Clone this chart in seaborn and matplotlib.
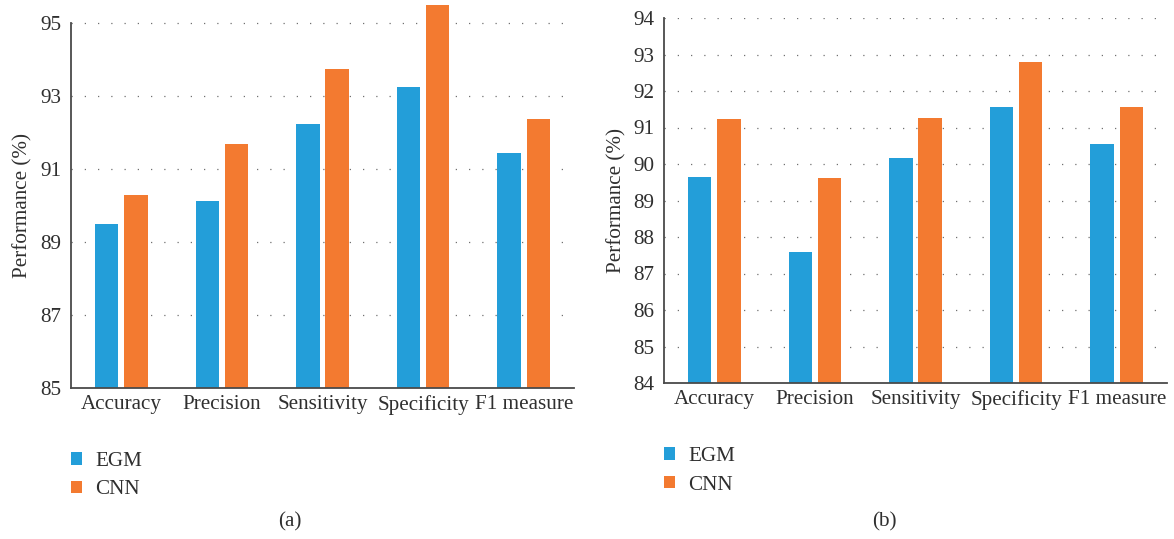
import numpy as np
import pandas as pd
import matplotlib
matplotlib.use("Agg")
import matplotlib.pyplot as plt
from matplotlib.patches import Patch
import seaborn as sns

# Metrics and results for the two experiments
metrics = ["Accuracy", "Precision", "Sensitivity", "Specificity", "F1 measure"]
methods = ["EGM", "CNN"]

egm_a = [89.5, 90.12, 92.23, 93.25, 91.45]
cnn_a = [90.3, 91.68, 93.75, 95.5, 92.38]

egm_b = [89.65, 87.6, 90.17, 91.57, 90.56]
cnn_b = [91.24, 89.62, 91.27, 92.8, 91.57]

ticks_a = [85, 87, 89, 91, 93, 95]
ticks_b = [84, 85, 86, 87, 88, 89, 90, 91, 92, 93, 94]

colors = {"EGM": "#239ED9", "CNN": "#F37A30"}
text_color = "#2f2f2f"
spine_color = "#4a4a4a"

sns.set_theme(style="white")
plt.rcParams["font.family"] = ["Liberation Serif", "DejaVu Serif"]
plt.rcParams["text.color"] = text_color
plt.rcParams["axes.labelcolor"] = text_color
plt.rcParams["xtick.color"] = text_color
plt.rcParams["ytick.color"] = text_color

FS = 15.2


def to_frame(egm, cnn):
    return pd.DataFrame({
        "metric": metrics * 2,
        "method": ["EGM"] * len(metrics) + ["CNN"] * len(metrics),
        "value": list(egm) + list(cnn),
    })


def draw_panel(ax, df, ticks, top):
    sns.barplot(data=df, x="metric", y="value", hue="method",
                hue_order=methods, palette=colors, width=0.58, gap=0.2,
                saturation=1, legend=False, ax=ax, zorder=2,
                linewidth=0, edgecolor="none")
    ax.set_ylim(ticks[0], top)
    ax.set_xlim(-0.5, len(metrics) - 0.5)
    ax.set_yticks(ticks)
    ax.set_yticklabels([str(t) for t in ticks])
    for t in ticks[1:]:
        ax.axhline(t, color="#707070", lw=0.9, ls=(0, (1, 9.6)), zorder=1)
    ax.set_xlabel("")
    ax.set_ylabel("Performance (%)", fontsize=FS, labelpad=5)
    for side in ("top", "right"):
        ax.spines[side].set_visible(False)
    for side in ("left", "bottom"):
        ax.spines[side].set_color(spine_color)
        ax.spines[side].set_linewidth(1.3)
        ax.spines[side].set_zorder(3)
    ax.spines["left"].set_bounds(ticks[0], ticks[-1])
    ax.tick_params(axis="both", length=0, labelsize=FS)
    ax.tick_params(axis="y", pad=7)
    ax.tick_params(axis="x", pad=5)


fig = plt.figure(figsize=(11.74, 5.39), dpi=100)
W, H = 1174, 539

# panel (a) leaves headroom above 95 for the tallest bar
top_a = 95.55
h_a = 365 * (top_a - 85) / 10
ax_a = fig.add_axes([71 / W, (H - 388) / H, 503 / W, h_a / H])
ax_b = fig.add_axes([664 / W, (H - 383) / H, 503 / W, 365 / H])

draw_panel(ax_a, to_frame(egm_a, cnn_a), ticks_a, top_a)
draw_panel(ax_b, to_frame(egm_b, cnn_b), ticks_b, 94)

# panel (a) y-label sits alongside the 85-95 span of the axis
ax_a.yaxis.set_label_coords((32 - 71) / 503, 5 / 10.55, transform=ax_a.transAxes)

handles = [Patch(facecolor=colors[m], edgecolor="none", label=m) for m in methods]


def add_legend(x_px, y_px):
    fig.legend(handles=handles, loc="upper left",
               bbox_to_anchor=(x_px / W, (H - y_px) / H),
               bbox_transform=fig.transFigure, frameon=False,
               fontsize=FS, handlelength=0.52, handleheight=0.52,
               handletextpad=0.62, labelspacing=0.45, borderpad=0,
               borderaxespad=0)


add_legend(71, 452)
add_legend(664, 447)

fig.text(290 / W, (H - 522) / H, "(a)", ha="center", va="center", fontsize=FS)
fig.text(884 / W, (H - 522) / H, "(b)", ha="center", va="center", fontsize=FS)

fig.savefig("out.png", dpi=100)
